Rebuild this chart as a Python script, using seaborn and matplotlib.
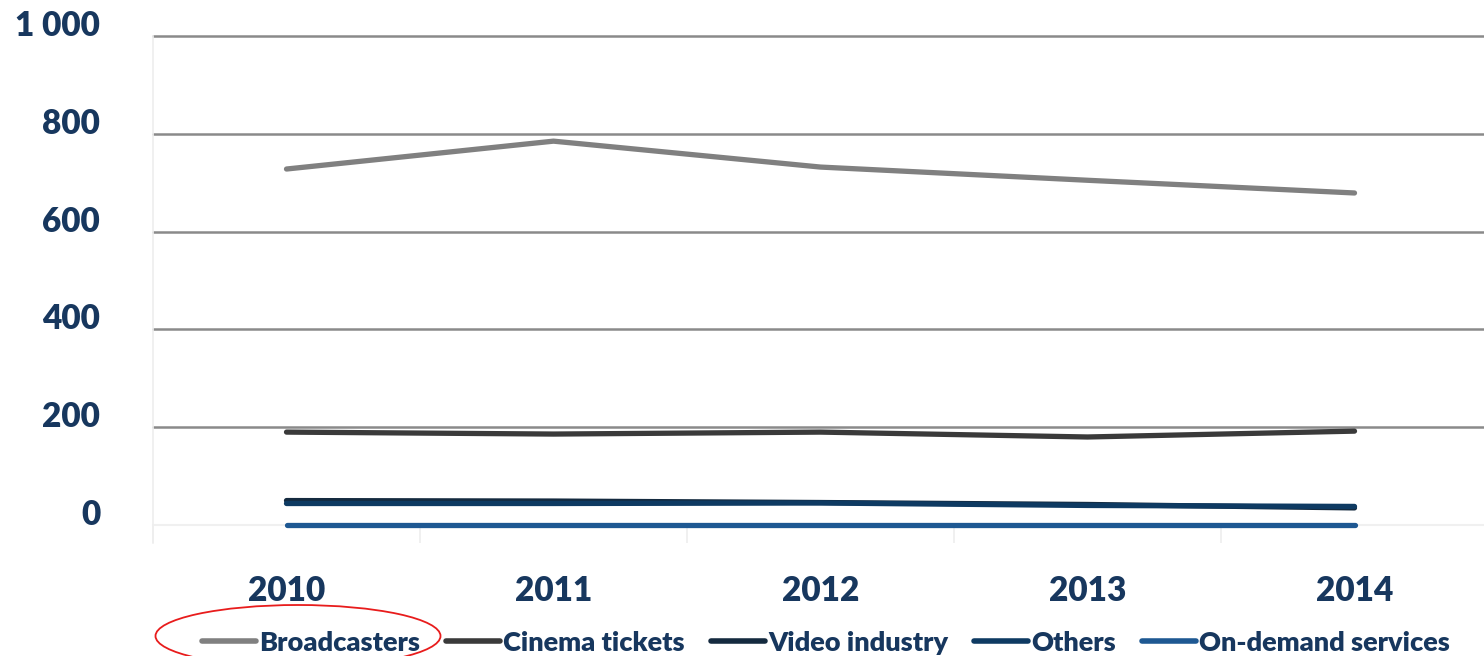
import matplotlib
matplotlib.use("Agg")
import matplotlib.pyplot as plt
from matplotlib.patches import Ellipse
import pandas as pd
import seaborn as sns

years = ["2010", "2011", "2012", "2013", "2014"]
series_names = ["Broadcasters", "Cinema tickets", "Video industry", "Others", "On-demand services"]
broadcasters = [728, 785, 732, 705, 679]
cinema_tickets = [190, 186, 190, 180, 192]
video_industry = [50, 49, 46, 42, 35]
others = [44, 44, 45, 40, 38]
on_demand = [1, 1, 1, 1, 1]
y_ticks = [0, 200, 400, 600, 800, 1000]
y_tick_labels = ["0", "200", "400", "600", "800", "1 000"]

colors = ["#808080", "#3a3a3a", "#142a3f", "#0e3a62", "#1e5892"]
text_color = "#17375e"

values = [broadcasters, cinema_tickets, video_industry, others, on_demand]
df = pd.DataFrame(
    [(i, name, v) for name, vals in zip(series_names, values) for i, v in enumerate(vals)],
    columns=["idx", "series", "value"],
)

sns.set_style("white")
plt.rcParams["font.family"] = ["Lato", "DejaVu Sans"]
plt.rcParams["font.weight"] = "heavy"

fig = plt.figure(figsize=(14.84, 6.56), dpi=100)
ax = fig.add_axes([0.1031, 0.1721, 0.8996, 0.7730])

# horizontal gridlines
for t in y_ticks:
    ax.axhline(t, color="#f0f0f0" if t == 0 else "#8a8a8a", lw=1.8 if t else 1.5,
               zorder=1, clip_on=False)

# category separators below the axis
ax.vlines([i - 0.5 for i in range(len(years) + 1)], -37, 0, color="#eeeeee", lw=1.2,
          clip_on=False, zorder=0)

sns.lineplot(data=df, x="idx", y="value", hue="series", hue_order=series_names,
             palette=colors, linewidth=3.8, ax=ax, legend=False, zorder=3)
for ln in ax.lines:
    ln.set_solid_capstyle("round")

ax.set_xlim(-0.5, len(years) - 0.5)
ax.set_ylim(-37, 1000)
ax.set_xticks(range(len(years)))
ax.set_xticklabels(years)
ax.set_yticks(y_ticks)
ax.set_yticklabels(y_tick_labels)
ax.set_xlabel("")
ax.set_ylabel("")
ax.tick_params(axis="x", length=0, pad=23, labelsize=24, labelcolor=text_color)
ax.tick_params(axis="y", length=0, pad=38, labelsize=24, labelcolor=text_color)
for lbl in ax.get_yticklabels():
    lbl.set_va("baseline")
for lbl in ax.get_xticklabels() + ax.get_yticklabels():
    lbl.set_fontweight("heavy")

for side in ["top", "right", "bottom"]:
    ax.spines[side].set_visible(False)
ax.spines["left"].set_color("#eeeeee")
ax.spines["left"].set_linewidth(1.2)

handles = [plt.Line2D([0], [0], color=c, lw=4, solid_capstyle="round") for c in colors]
leg = fig.legend(handles, series_names, loc="center", bbox_to_anchor=(0.5566, 0.02),
                 ncol=5, frameon=False, fontsize=19.5, handlelength=2.0,
                 handletextpad=0.12, columnspacing=0.95, borderaxespad=0)
for txt in leg.get_texts():
    txt.set_color(text_color)
    txt.set_fontweight("heavy")

fig.patches.append(Ellipse((298 / 1484, 1 - 636 / 656), 285 / 1484, 62 / 656,
                           transform=fig.transFigure, fill=False, edgecolor="#e81c1c",
                           lw=1.3))

fig.savefig("out.png", dpi=100)
